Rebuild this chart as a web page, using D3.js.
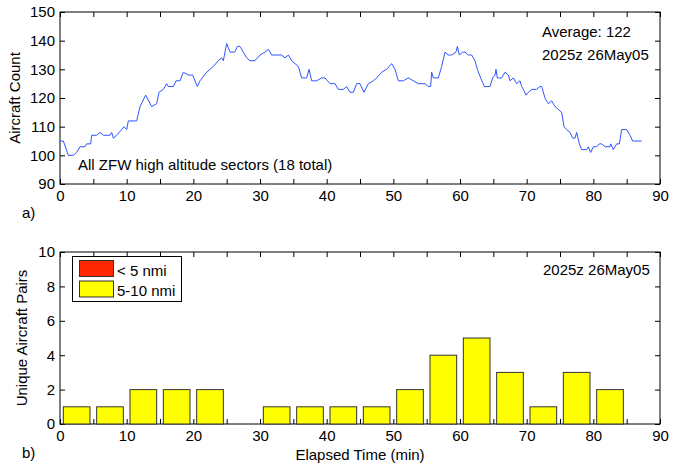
<!DOCTYPE html>
<html>
<head>
<meta charset="utf-8">
<script src="https://cdn.jsdelivr.net/npm/d3@7"></script>
<style>
  body { margin: 0; background: #fff; }
  text { font-family: "Liberation Sans", Arial, Helvetica, sans-serif; font-size: 15px; fill: #000; }
</style>
</head>
<body>
<svg id="chart" width="677" height="466"></svg>
<script>
// Sector traffic count (minutes elapsed, aircraft in sectors)
const countTimes = [0, 0.5, 1.25, 2, 2.5, 3, 3.75, 4, 4.6, 4.75, 5.5, 6, 6.5, 7.5, 7.75, 8, 8.5, 9.25, 9.6, 10,
  10.25, 11.5, 12, 12.85, 13.75, 14.5, 14.85, 15.5, 16, 16.25, 17, 17.4, 18, 18.5, 19.25, 19.9, 20.6, 21, 22, 23,
  23.75, 24.25, 24.5, 25, 25.5, 26.2, 26.6, 27, 27.5, 28, 28.5, 29.25, 30, 30.75, 31.25, 31.75, 33.25, 33.75, 34.25, 34.75,
  35.25, 35.75, 36.25, 37, 37.35, 37.75, 38.5, 39.25, 39.75, 40.5, 41.25, 41.75, 42.5, 43, 43.5, 44, 44.5, 45, 45.6, 46.25,
  47, 47.5, 48.25, 49, 49.75, 50.25, 50.75, 51.5, 52.25, 53, 53.75, 54.75, 55.25, 55.6, 55.75, 56, 56.75, 57.25, 57.75, 58.25,
  58.75, 59.4, 59.6, 59.9, 60.4, 60.75, 61.25, 61.75, 62.25, 62.6, 63.1, 63.65, 64.5, 64.9, 65.25, 65.4, 65.6, 66.25, 66.75, 67.25,
  67.5, 68, 68.5, 69, 69.25, 69.5, 69.9, 70.25, 70.75, 71.5, 72, 72.25, 72.75, 73.25, 73.75, 74.25, 74.75, 75.25, 75.6, 76,
  76.5, 76.9, 77.25, 77.5, 77.9, 78.25, 79, 79.25, 79.6, 80, 80.5, 80.9, 81.25, 81.75, 82.5, 82.6, 83, 83.5, 83.9, 84.25,
  85, 85.5, 85.9, 87.25];
const countValues = [105, 105, 100, 100, 101, 103, 103, 104, 104, 107, 107, 108, 107, 107, 108, 106, 107, 109, 110, 109,
  112, 112, 117, 121, 117, 118, 122, 123, 125, 124, 124, 126, 126, 129, 128, 128, 124, 126, 129, 131,
  133, 134, 133, 139, 136, 136, 138, 138, 136, 134, 133, 133, 135, 136, 137, 135, 135, 134, 135, 133,
  132, 131, 127, 127, 130, 126, 126, 127, 127, 125, 125, 123, 123, 124, 122, 122, 125, 125, 122, 125,
  126, 127, 129, 130, 132, 130, 126, 126, 127, 126, 125, 125, 124, 124, 129, 127, 127, 131, 136, 135,
  135, 136, 138, 135, 136, 136, 135, 135, 133, 130, 127, 124, 124, 127, 128, 130, 127, 127, 129, 128,
  126, 127, 125, 126, 124, 123, 121, 122, 123, 123, 124, 124, 120, 118, 119, 117, 116, 115, 110, 109,
  108, 106, 106, 108, 104, 102, 102, 103, 101, 103, 103, 104, 104, 103, 103, 104, 102, 104, 104, 109,
  109, 107, 105, 105];

// Conflict pairs per 5-minute bin
const binStarts = [0, 5, 10, 15, 20, 25, 30, 35, 40, 45, 50, 55, 60, 65, 70, 75, 80, 85];
const pairsUnder5 = [0, 0, 0, 0, 0, 0, 0, 0, 0, 0, 0, 0, 0, 0, 0, 0, 0, 0];
const pairs5to10 = [1, 1, 2, 2, 2, 0, 1, 1, 1, 1, 2, 4, 5, 3, 1, 3, 2, 0];

const timeTicks = [0, 5, 10, 15, 20, 25, 30, 35, 40, 45, 50, 55, 60, 65, 70, 75, 80, 85, 90];
const countTicks = [90, 100, 110, 120, 130, 140, 150];
const pairTicks = [0, 2, 4, 6, 8, 10];
const legendLabels = ["< 5 nmi", "5-10 nmi"];
const legendColors = ["#ff2600", "#ffff00"];

const svg = d3.select("#chart");
svg.append("rect").attr("width", 677).attr("height", 466).attr("fill", "#fff");

const left = 60, right = 660;
const x = d3.scaleLinear().domain([0, 90]).range([left, right]);

function frame(g, y, top, bottom, yTicks, id) {
  const fmtX = d => (d % 10 === 0 ? d : "");
  g.append("g").attr("transform", `translate(0,${bottom})`)
    .call(d3.axisBottom(x).tickValues(timeTicks).tickSize(-5).tickPadding(6).tickFormat(fmtX))
    .call(a => a.select(".domain").remove());
  g.append("g").attr("transform", `translate(0,${top})`)
    .call(d3.axisTop(x).tickValues(timeTicks).tickSize(-5).tickFormat(""))
    .call(a => a.select(".domain").remove());
  g.append("g").attr("transform", `translate(${left},0)`)
    .call(d3.axisLeft(y).tickValues(yTicks).tickSize(-5).tickPadding(5))
    .call(a => a.select(".domain").remove());
  g.append("g").attr("transform", `translate(${right},0)`)
    .call(d3.axisRight(y).tickValues(yTicks).tickSize(-5).tickFormat(""))
    .call(a => a.select(".domain").remove());
  g.selectAll(".tick line").attr("stroke", "#000");
  g.selectAll(".tick text").style("font-size", "15px").attr("fill", "#000");
  g.append("rect").attr("x", left).attr("y", top).attr("width", right - left).attr("height", bottom - top)
    .attr("fill", "none").attr("stroke", "#000").attr("stroke-width", 1);
}

// ---- Panel a: aircraft count ----
const aTop = 12, aBottom = 184;
const yA = d3.scaleLinear().domain([90, 150]).range([aBottom, aTop]);
const ga = svg.append("g");
frame(ga, yA, aTop, aBottom, countTicks);

const pts = countTimes.map((t, i) => [t, countValues[i]]);
ga.append("path").datum(pts)
  .attr("fill", "none").attr("stroke", "#2f55ff").attr("stroke-width", 1)
  .attr("d", d3.line().x(d => x(d[0])).y(d => yA(d[1])));

ga.append("text").attr("x", 78).attr("y", 170).text("All ZFW high altitude sectors (18 total)");
ga.append("text").attr("x", 542).attr("y", 37).text("Average: 122");
ga.append("text").attr("x", 542).attr("y", 60).text("2025z 26May05");
ga.append("text").attr("transform", `translate(20,${(aTop + aBottom) / 2}) rotate(-90)`)
  .attr("text-anchor", "middle").text("Aircraft Count");
svg.append("text").attr("x", 22).attr("y", 218).text("a)");

// ---- Panel b: unique aircraft pairs ----
const bTop = 252, bBottom = 424;
const yB = d3.scaleLinear().domain([0, 10]).range([bBottom, bTop]);
const gb = svg.append("g");
frame(gb, yB, bTop, bBottom, pairTicks);

const bars = binStarts.map((s, i) => ({ s, a: pairsUnder5[i], b: pairs5to10[i] }));
gb.selectAll("rect.near").data(bars.filter(d => d.a > 0)).join("rect")
  .attr("class", "near")
  .attr("x", d => x(d.s + 0.5)).attr("width", d => x(d.s + 4.5) - x(d.s + 0.5))
  .attr("y", d => yB(d.a)).attr("height", d => yB(0) - yB(d.a))
  .attr("fill", legendColors[0]).attr("stroke", "#333");
gb.selectAll("rect.mid").data(bars.filter(d => d.b > 0)).join("rect")
  .attr("class", "mid")
  .attr("x", d => x(d.s + 0.5)).attr("width", d => x(d.s + 4.5) - x(d.s + 0.5))
  .attr("y", d => yB(d.a + d.b)).attr("height", d => yB(d.a) - yB(d.a + d.b))
  .attr("fill", legendColors[1]).attr("stroke", "#333");

// legend
const lg = gb.append("g");
lg.append("rect").attr("x", 72.5).attr("y", 256.5).attr("width", 109).attr("height", 45)
  .attr("fill", "#fff").attr("stroke", "#000");
legendLabels.forEach((lab, i) => {
  lg.append("rect").attr("x", 79.5).attr("y", 260.5 + i * 20.5).attr("width", 34).attr("height", 16)
    .attr("fill", legendColors[i]).attr("stroke", "#333");
  lg.append("text").attr("x", 117).attr("y", 276 + i * 20).text(lab);
});

gb.append("text").attr("x", 543).attr("y", 275).text("2025z 26May05");
gb.append("text").attr("transform", `translate(27,${(bTop + bBottom) / 2}) rotate(-90)`)
  .attr("text-anchor", "middle").text("Unique Aircraft Pairs");
svg.append("text").attr("x", 22).attr("y", 458).text("b)");
svg.append("text").attr("x", (left + right) / 2).attr("y", 460).attr("text-anchor", "middle").text("Elapsed Time (min)");
</script>
</body>
</html>
